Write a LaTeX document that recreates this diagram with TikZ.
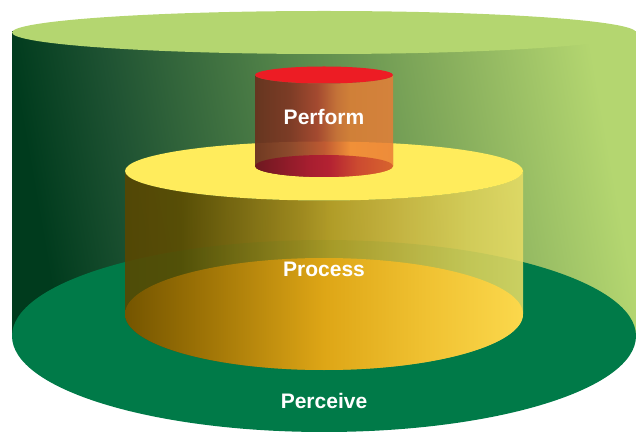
\documentclass[tikz,border=0pt]{standalone}
\usepackage{fontspec}
\setmainfont{Liberation Sans}
\definecolor{bwA}{HTML}{003B1D}
\definecolor{bwB}{HTML}{1E5232}
\definecolor{bwC}{HTML}{5A8A4C}
\definecolor{bwD}{HTML}{86AD5C}
\definecolor{bwE}{HTML}{B4D670}
\definecolor{ywA}{HTML}{5A4600}
\definecolor{ywB}{HTML}{5E4C00}
\definecolor{ywC}{HTML}{A88A1A}
\definecolor{ywD}{HTML}{BEA024}
\definecolor{ywE}{HTML}{D0B840}
\definecolor{ywF}{HTML}{DCD058}
\definecolor{ywG}{HTML}{E6DC66}
\definecolor{gdA}{HTML}{745500}
\definecolor{gdB}{HTML}{9C7206}
\definecolor{gdC}{HTML}{DEA616}
\definecolor{gdD}{HTML}{F0C232}
\definecolor{gdE}{HTML}{FBD84C}
\definecolor{rwA}{HTML}{663620}
\definecolor{rwB}{HTML}{7C3C26}
\definecolor{rwC}{HTML}{A44A30}
\definecolor{rwD}{HTML}{C47238}
\definecolor{rwE}{HTML}{D08038}
\definecolor{rwF}{HTML}{D4823C}
\definecolor{rlA}{HTML}{703A22}
\definecolor{rlB}{HTML}{8C4A2C}
\definecolor{rlC}{HTML}{C05A32}
\definecolor{rlD}{HTML}{F09038}
\definecolor{rlE}{HTML}{EE8C3A}
\definecolor{rbA}{HTML}{6E1820}
\definecolor{rbB}{HTML}{A81E30}
\definecolor{rbC}{HTML}{B42232}
\definecolor{rbD}{HTML}{CC4A30}
\definecolor{rbE}{HTML}{D8642E}
\definecolor{bigtop}{HTML}{B4D670}
\definecolor{floorgreen}{HTML}{007A48}
\definecolor{yeltop}{HTML}{FFEC5C}
\definecolor{redtop}{HTML}{ED1C24}
\pgfdeclarehorizontalshading{bigwall}{100bp}{color(0bp)=(bwA); color(25bp)=(bwA); color(33bp)=(bwB); color(50bp)=(bwC); color(62bp)=(bwD); color(75bp)=(bwE); color(100bp)=(bwE)}
\pgfdeclarehorizontalshading{yelwall}{100bp}{color(0bp)=(ywA); color(25bp)=(ywA); color(32bp)=(ywB); color(47bp)=(ywC); color(51bp)=(ywD); color(59.5bp)=(ywE); color(68bp)=(ywF); color(75bp)=(ywG); color(100bp)=(ywG)}
\pgfdeclarehorizontalshading{goldfloor}{100bp}{color(0bp)=(gdA); color(25bp)=(gdA); color(34.5bp)=(gdB); color(50bp)=(gdC); color(63bp)=(gdD); color(75bp)=(gdE); color(100bp)=(gdE)}
\pgfdeclarehorizontalshading{redwall}{100bp}{color(0bp)=(rwA); color(25bp)=(rwA); color(37.5bp)=(rwB); color(47.5bp)=(rwC); color(54.5bp)=(rwD); color(59.5bp)=(rwE); color(75bp)=(rwF); color(100bp)=(rwF)}
\pgfdeclarehorizontalshading{redwalllow}{100bp}{color(0bp)=(rlA); color(25bp)=(rlA); color(37.5bp)=(rlB); color(50bp)=(rlC); color(59.5bp)=(rlD); color(75bp)=(rlE); color(100bp)=(rlE)}
\pgfdeclarehorizontalshading{redfloor}{100bp}{color(0bp)=(rbA); color(25bp)=(rbA); color(45bp)=(rbB); color(52bp)=(rbC); color(62bp)=(rbD); color(75bp)=(rbE); color(100bp)=(rbE)}
\tikzset{
  label text/.style={text=white, font=\bfseries\fontsize{21}{21}\selectfont, inner sep=0pt, anchor=base}
}
\begin{document}
\begin{tikzpicture}[x=1pt,y=1pt]
\useasboundingbox (0,0) rectangle (636,431);
% big cylinder wall
\shade[shading=bigwall, shading angle=10] (12,95) rectangle (636,399);
% big cylinder top
\fill[bigtop] (324,398.5) ellipse [x radius=312, y radius=21.5];
% green floor
\fill[floorgreen] (324,95) ellipse [x radius=312, y radius=96];
% yellow wall
\shade[shading=yelwall, opacity=0.88] (125,260) -- (125,117)
  arc[start angle=180, end angle=360, x radius=199, y radius=56]
  -- (523,260)
  arc[start angle=0, end angle=-180, x radius=199, y radius=29.5] -- cycle;
% gold floor
\shade[shading=goldfloor] (324,117) ellipse [x radius=199, y radius=56];
% yellow top
\fill[yeltop] (324,260) ellipse [x radius=199, y radius=29.5];
% red wall (over green)
\shade[shading=redwall] (255,356) -- (255,265)
  arc[start angle=180, end angle=360, x radius=69, y radius=11]
  -- (393,356)
  arc[start angle=0, end angle=-180, x radius=69, y radius=8.5] -- cycle;
% red wall part seen over the yellow top (brighter)
\begin{scope}
  \clip (324,260) ellipse [x radius=199, y radius=29.5];
  \shade[shading=redwalllow] (255,356) -- (255,265)
    arc[start angle=180, end angle=360, x radius=69, y radius=11]
    -- (393,356)
    arc[start angle=0, end angle=-180, x radius=69, y radius=8.5] -- cycle;
\end{scope}
% red floor
\shade[shading=redfloor] (324,265) ellipse [x radius=69, y radius=11];
% red top
\fill[redtop] (324,356) ellipse [x radius=69, y radius=8.5];
% labels
\node[label text] (perform) at (324,306) {Perform};
\node[label text] (process) at (324,154) {Process};
\node[label text] (perceive) at (324,23) {Perceive};
\end{tikzpicture}
\end{document}
